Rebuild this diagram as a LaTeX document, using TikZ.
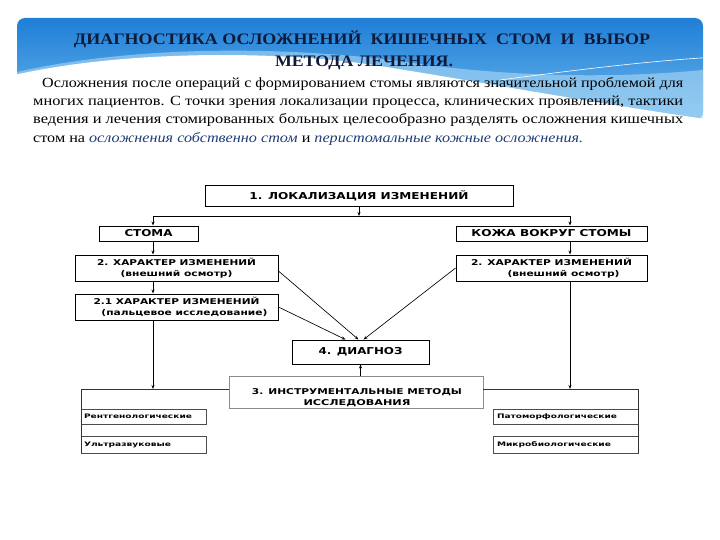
\documentclass[tikz,border=0pt]{standalone}
\usepackage{fontspec}
\usepackage{graphicx}
\setmainfont{Liberation Serif}
\newfontfamily\boxfont{DejaVu Sans}
\usetikzlibrary{arrows.meta,positioning,calc}
\definecolor{bandtop}{HTML}{1F7ED6}
\definecolor{bandbot}{HTML}{6DB9EE}
\definecolor{bandpale}{HTML}{B5DDF6}
\definecolor{titleink}{HTML}{101A3A}
\definecolor{emphink}{HTML}{1E3C78}
\newcommand{\wline}[2]{\resizebox{#1}{\height}{#2}}

\begin{document}
\begin{tikzpicture}[x=1pt, y=-1pt,
  box/.style={draw, line width=0.9pt, inner sep=0pt, align=center},
  big/.style={box, font=\boxfont\bfseries\fontsize{9.5}{11}\selectfont},
  two/.style={box, font=\boxfont\bfseries\fontsize{8}{11}\selectfont},
  meth/.style={draw=black!70, line width=0.7pt, inner sep=0pt, minimum height=15pt,
    font=\boxfont\bfseries\fontsize{6.2}{7}\selectfont},
  arr/.style={-{Stealth[length=4pt, width=3pt]}, line width=0.65pt},
  brace/.style={line width=0.6pt, black!80},
  head/.style={font=\fontsize{16}{18}\selectfont\bfseries, text=titleink, anchor=base, inner sep=0pt},
  para/.style={font=\fontsize{14}{16}\selectfont, anchor=base west, inner sep=0pt}]
  \useasboundingbox (0,0) rectangle (720,540);
  % banner
  \shade[top color=bandtop, bottom color=bandbot, rounded corners=8pt] (17,18) rectangle (703,120);
  \fill[bandpale, opacity=0.55] (17,72) .. controls (140,44) and (300,46) .. (420,64)
    .. controls (540,80) and (640,76) .. (703,70) -- (703,130) -- (17,130) -- cycle;
  \fill[white] (10,76) .. controls (120,50) and (280,50) .. (380,66)
    .. controls (480,82) and (600,104) .. (712,120) -- (712,135) -- (10,135) -- cycle;
  \draw[white, line width=0.6pt] (500,80) .. controls (590,68) and (660,60) .. (718,57);
  \node[head] (head1) at (362,45) {\wline{576pt}{ДИАГНОСТИКА ОСЛОЖНЕНИЙ\ \ КИШЕЧНЫХ\ \ СТОМ\ \ И\ \ ВЫБОР}};
  \node[head] (head2) at (364,67) {\wline{178pt}{МЕТОДА ЛЕЧЕНИЯ.}};
  \node[para] (line1) at (42,88) {\wline{641pt}{Осложнения после операций с формированием стомы являются значительной проблемой для}};
  \node[para] (line2) at (33,106) {\wline{650pt}{многих пациентов. С точки зрения локализации процесса, клинических проявлений, тактики}};
  \node[para] (line3) at (33,124) {\wline{650pt}{ведения и лечения стомированных больных целесообразно разделять осложнения кишечных}};
  \node[para] (line4) at (33,143) {\wline{550pt}{стом на \textcolor{emphink}{\itshape осложнения собственно стом} и \textcolor{emphink}{\itshape перистомальные кожные осложнения.}}};

  % scheme
  \node[big, minimum width=308pt, minimum height=21pt] (loc) at (359,195.5) {\wline{219pt}{1. ЛОКАЛИЗАЦИЯ ИЗМЕНЕНИЙ}};
  \node[big, minimum width=99pt, minimum height=15pt] (stoma) at (148.5,233.5) {\wline{48pt}{СТОМА}};
  \node[big, minimum width=191pt, minimum height=15pt] (skin) at (551.5,233.5) {\wline{160pt}{КОЖА ВОКРУГ СТОМЫ}};
  \node[two, minimum width=203pt, minimum height=26pt] (lookL) at (176.5,268)
    {\wline{159pt}{2. ХАРАКТЕР ИЗМЕНЕНИЙ}\\\wline{112pt}{(внешний осмотр)}};
  \node[two, minimum width=191pt, minimum height=26pt] (lookR) at (551.5,268)
    {\wline{161pt}{2. ХАРАКТЕР ИЗМЕНЕНИЙ}\\\hspace*{24pt}\wline{112pt}{(внешний осмотр)}};
  \node[two, minimum width=203pt, minimum height=26pt] (finger) at (176.5,307)
    {\wline{166pt}{2.1 ХАРАКТЕР ИЗМЕНЕНИЙ}\\\hspace*{16pt}\wline{166pt}{(пальцевое исследование)}};
  \node[big, minimum width=137pt, minimum height=24pt, text depth=2pt] (diag) at (360.5,352) {\wline{84pt}{4. ДИАГНОЗ}};
  \node[box, draw=black!45, minimum width=254pt, minimum height=32pt] (instr) at (356,392) {};
  \node[two, draw=none] (instrtext) at (357,397.5)
    {\wline{210pt}{3. ИНСТРУМЕНТАЛЬНЫЕ МЕТОДЫ}\\\wline{107pt}{ИССЛЕДОВАНИЯ}};
  \node[meth, minimum width=125pt, text width=119pt] (xray) at (143.5,416.5) {\wline{108pt}{Рентгенологические}};
  \node[meth, minimum width=125pt, text width=119pt, minimum height=17pt] (echo) at (143.5,444.5) {\wline{87pt}{Ультразвуковые}};
  \node[meth, minimum width=145pt, text width=137pt] (patho) at (565.5,416.5) {\wline{120pt}{Патоморфологические}};
  \node[meth, minimum width=145pt, text width=137pt, minimum height=17pt] (micro) at (565.5,444.5) {\wline{114pt}{Микробиологические}};

  \coordinate (lsplit) at (153,216);
  \coordinate (rsplit) at (570,216);
  \coordinate (lgroup) at (81,389);
  \coordinate (rgroup) at (638,389);
  \coordinate (lfoot) at (81,453);
  \coordinate (rfoot) at (638,453);

  \draw[arr] (loc.south) -- (loc.south |- lsplit);
  \draw[line width=0.65pt] (lsplit) -- (rsplit);
  \draw[arr] (lsplit) -- (stoma.north -| lsplit);
  \draw[arr] (rsplit) -- (skin.north -| rsplit);
  \draw[arr] (stoma.south -| lsplit) -- (lookL.north -| lsplit);
  \draw[arr] (skin.south -| rsplit) -- (lookR.north -| rsplit);
  \draw[arr] (lookL.south -| lsplit) -- (finger.north -| lsplit);
  \draw[arr] (finger.south -| lsplit) -- (lsplit |- lgroup);
  \draw[arr] (lookR.south -| rsplit) -- (rsplit |- rgroup);
  \draw[arr] ([yshift=-3pt]lookL.east) -- ([xshift=-2pt]diag.north);
  \draw[arr] (finger.east) -- ([xshift=-15pt]diag.north);
  \draw[arr] (lookR.west) -- ([xshift=3pt]diag.north);
  \draw[arr] (instr.north -| diag.north) -- (diag.south);
  % groups of methods
  \draw[brace] (instr.west |- lgroup) -- (lgroup) -- (lfoot);
  \draw[brace] (instr.east |- rgroup) -- (rgroup) -- (rfoot);
\end{tikzpicture}
\end{document}
